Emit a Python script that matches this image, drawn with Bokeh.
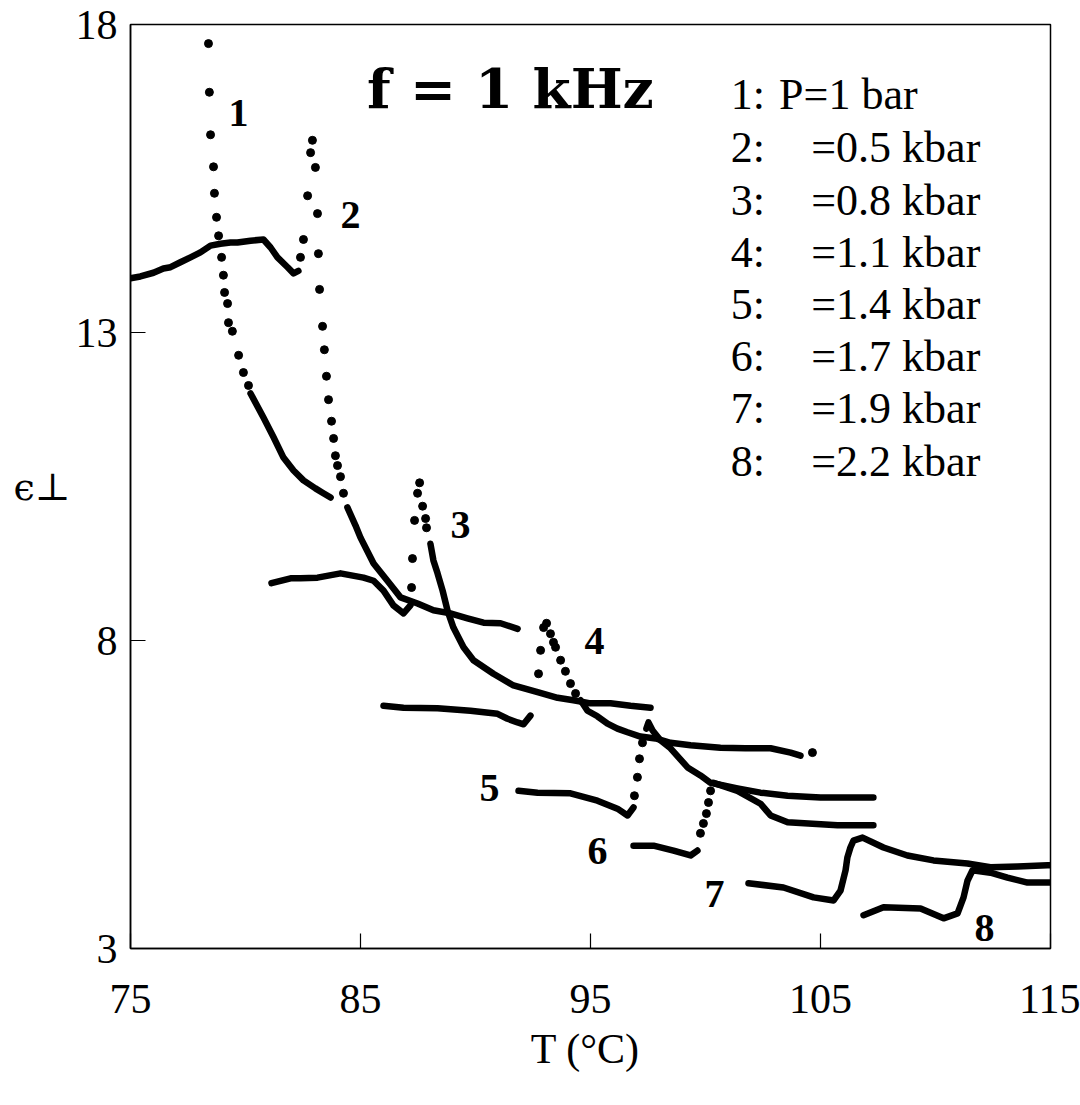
from bokeh.plotting import figure
from bokeh.models import Range1d, FixedTicker, Label
from bokeh.core.properties import value
from bokeh.embed import file_html
from bokeh.resources import INLINE

# ---------------- data: T (deg C) vs eps_perp ----------------
# curve 1: P = 1 bar
c1_dots_T = [78.39, 78.43, 78.48, 78.61, 78.65, 78.74, 78.83, 78.96, 79.04, 79.09, 79.22, 79.26, 79.43, 79.70, 79.91, 80.13]
c1_dots_eps = [17.69, 16.90, 16.21, 15.69, 15.26, 14.87, 14.57, 14.22, 13.93, 13.65, 13.47, 13.16, 13.02, 12.63, 12.35, 12.14]
c1_line_T = [80.22, 80.78, 81.22, 81.65, 82.09, 82.52, 83.04, 83.35, 83.70]
c1_line_eps = [12.01, 11.62, 11.30, 10.97, 10.76, 10.60, 10.47, 10.40, 10.32]

# curve 2: P = 0.5 kbar
c2_low_T = [75.00, 75.43, 76.00, 76.43, 76.74, 77.17, 77.61, 78.04, 78.48, 78.91, 79.35, 79.65, 80.22, 80.78, 81.09, 81.39, 81.83, 82.09, 82.30]
c2_low_eps = [13.88, 13.91, 13.97, 14.04, 14.06, 14.14, 14.22, 14.30, 14.41, 14.44, 14.46, 14.46, 14.49, 14.51, 14.38, 14.22, 14.06, 13.96, 14.00]
c2_dots_T = [82.39, 82.52, 82.70, 82.83, 82.91, 83.04, 83.13, 83.17, 83.22, 83.35, 83.43, 83.52, 83.61, 83.74, 83.83, 83.91, 84.00, 84.13, 84.26]
c2_dots_eps = [14.22, 14.51, 15.22, 15.92, 16.12, 15.68, 14.93, 14.28, 13.70, 13.10, 12.72, 12.29, 11.91, 11.56, 11.28, 11.00, 10.84, 10.66, 10.39]
c2_high_T = [84.43, 84.78, 85.00, 85.57, 86.17, 86.74, 87.48, 88.17, 88.91, 89.65, 90.35, 91.09, 91.83]
c2_high_eps = [10.16, 9.87, 9.67, 9.25, 8.97, 8.70, 8.60, 8.49, 8.44, 8.36, 8.29, 8.28, 8.19]

# curve 3: P = 0.8 kbar
c3_low_T = [81.13, 81.96, 82.39, 83.13, 84.13, 85.13, 85.57, 86.00, 86.43, 86.87, 87.17]
c3_low_eps = [8.93, 9.01, 9.01, 9.02, 9.09, 9.02, 8.97, 8.81, 8.57, 8.44, 8.57]
c3_dots_T = [87.22, 87.26, 87.35, 87.48, 87.57, 87.70, 87.83, 87.87]
c3_dots_eps = [8.86, 9.33, 9.95, 10.39, 10.56, 10.18, 9.98, 9.83]
c3_high_T = [88.04, 88.17, 88.35, 88.57, 88.78, 89.04, 89.48, 89.91, 90.78, 91.65, 92.70, 93.57, 94.26, 95.00, 95.87, 96.74, 97.61]
c3_high_eps = [9.57, 9.30, 9.09, 8.81, 8.49, 8.21, 7.89, 7.68, 7.46, 7.27, 7.16, 7.07, 7.03, 6.98, 6.98, 6.94, 6.91]

# curve 4: P = 1.1 kbar
c4_low_T = [86.00, 86.87, 88.35, 89.78, 90.96, 91.39, 91.83, 92.09, 92.39]
c4_low_eps = [6.94, 6.91, 6.90, 6.86, 6.81, 6.73, 6.67, 6.64, 6.78]
c4_dots_T = [92.74, 92.83, 92.96, 93.09, 93.26, 93.39, 93.48, 93.70, 93.91, 94.13, 94.35, 104.65]
c4_dots_eps = [7.46, 7.84, 8.21, 8.28, 8.11, 7.97, 7.89, 7.68, 7.50, 7.30, 7.14, 6.18]
c4_high_T = [94.57, 94.87, 95.30, 95.74, 96.17, 96.61, 97.17, 97.83, 98.48, 99.35, 100.65, 101.74, 102.83, 103.70, 104.13]
c4_high_eps = [7.03, 6.86, 6.77, 6.65, 6.57, 6.51, 6.44, 6.41, 6.34, 6.30, 6.26, 6.25, 6.25, 6.18, 6.13]

# curve 5: P = 1.4 kbar
c5_low_T = [91.87, 92.70, 94.13, 95.30, 96.17, 96.61, 96.87]
c5_low_eps = [5.56, 5.53, 5.52, 5.40, 5.27, 5.16, 5.29]
c5_dots_T = [96.91, 97.04, 97.13, 97.26]
c5_dots_eps = [5.48, 5.78, 6.08, 6.34]
c5_high_T = [97.43, 97.52, 97.70, 98.04, 98.48, 99.22, 99.78, 100.22, 101.39, 102.39, 103.57, 105.00, 106.30, 107.30]
c5_high_eps = [6.57, 6.67, 6.54, 6.38, 6.25, 5.94, 5.81, 5.69, 5.60, 5.53, 5.48, 5.45, 5.45, 5.45]

# curve 6: P = 1.7 kbar
c6_low_T = [96.87, 97.74, 98.61, 99.35, 99.65]
c6_low_eps = [4.67, 4.67, 4.59, 4.51, 4.59]
c6_dots_T = [99.78, 99.91, 100.04, 100.13, 100.22]
c6_dots_eps = [4.87, 5.03, 5.19, 5.37, 5.56]
c6_high_T = [100.35, 101.39, 102.39, 102.83, 103.57, 105.74, 107.30]
c6_high_eps = [5.69, 5.56, 5.35, 5.16, 5.05, 5.00, 5.00]

# curve 7: P = 1.9 kbar
c7_T = [101.87, 103.39, 104.70, 105.57, 105.87, 106.09, 106.17, 106.30, 106.43, 106.83, 107.74, 108.78, 109.91, 111.39, 112.39, 113.57, 114.87, 115.00]
c7_eps = [4.06, 3.99, 3.83, 3.78, 3.94, 4.27, 4.48, 4.64, 4.75, 4.80, 4.64, 4.51, 4.43, 4.38, 4.32, 4.33, 4.35, 4.35]

# curve 8: P = 2.2 kbar
c8_T = [106.87, 107.74, 109.35, 110.35, 110.96, 111.22, 111.39, 111.61, 112.39, 113.13, 114.00, 115.00]
c8_eps = [3.54, 3.67, 3.65, 3.49, 3.57, 3.83, 4.10, 4.27, 4.23, 4.15, 4.07, 4.07]

curve_names = ["1", "2", "3", "4", "5", "6", "7", "8"]
legend_nums = ["1:", "2:", "3:", "4:", "5:", "6:", "7:", "8:"]
legend_vals = ["P=1 bar", "=0.5 kbar", "=0.8 kbar", "=1.1 kbar", "=1.4 kbar", "=1.7 kbar", "=1.9 kbar", "=2.2 kbar"]
x_ticks = [75, 85, 95, 105, 115]
y_ticks = [3, 8, 13, 18]

# ---------------- layout constants (annotation positions, in data units) ----------------
name_T = [79.70, 84.57, 89.35, 95.17, 90.61, 95.30, 100.39, 112.13]
name_eps = [16.56, 14.90, 9.87, 8.00, 5.60, 4.59, 3.89, 3.34]
leg_num_T = 101.10
leg_val_T = [103.20] + [104.60] * 7
leg_eps = [16.86, 16.00, 15.14, 14.30, 13.45, 12.61, 11.77, 10.91]

SERIF = "Liberation Serif"

p = figure(width=1080, height=1105, output_backend="svg", toolbar_location=None,
           x_range=Range1d(75, 115), y_range=Range1d(3, 18),
           min_border_left=130, min_border_right=30, min_border_top=24, min_border_bottom=157)
p.background_fill_color = "white"
p.border_fill_color = "white"
p.outline_line_color = "black"
p.outline_line_width = 1.5
p.xgrid.visible = False
p.ygrid.visible = False

for ax, ticks in ((p.xaxis, x_ticks), (p.yaxis, y_ticks)):
    ax.ticker = FixedTicker(ticks=ticks)
    ax.major_tick_in = 15
    ax.major_tick_out = 0
    ax.minor_tick_in = 0
    ax.minor_tick_out = 0
    ax.major_tick_line_color = "black"
    ax.major_tick_line_width = 1.2
    ax.axis_line_color = "black"
    ax.axis_line_width = 1.5
    ax.major_label_text_font = SERIF
    ax.major_label_text_font_size = "42px"
    ax.major_label_text_color = "black"

p.xaxis.major_label_standoff = 36
p.yaxis.major_label_standoff = 13
p.xaxis.axis_label = "T  (°C)"
p.xaxis.axis_label_text_font = SERIF
p.xaxis.axis_label_text_font_size = "42px"
p.xaxis.axis_label_text_font_style = "normal"
p.xaxis.axis_label_text_color = "black"
p.xaxis.axis_label_standoff = 10

# y-axis label, horizontal
yax = p.yaxis[0]
if "axis_label_orientation" in yax.properties():
    yax.axis_label = "ϵ⊥"
    yax.axis_label_orientation = "horizontal"
    yax.axis_label_text_font = "DejaVu Serif"
    yax.axis_label_text_font_size = "38px"
    yax.axis_label_text_font_style = "normal"
    yax.axis_label_text_color = "black"
    yax.axis_label_standoff = 2
else:
    p.add_layout(Label(x=28, y=590, x_units="screen", y_units="screen", text="ϵ⊥",
                       text_font="DejaVu Serif", text_font_size="40px",
                       text_align="left", text_baseline="middle", text_color="black"))

LW = 6.5
DS = 8
solid = [(c1_line_T, c1_line_eps), (c2_low_T, c2_low_eps), (c2_high_T, c2_high_eps),
         (c3_low_T, c3_low_eps), (c3_high_T, c3_high_eps), (c4_low_T, c4_low_eps),
         (c4_high_T, c4_high_eps), (c5_low_T, c5_low_eps), (c5_high_T, c5_high_eps),
         (c6_low_T, c6_low_eps), (c6_high_T, c6_high_eps), (c7_T, c7_eps), (c8_T, c8_eps)]
for xs, ys in solid:
    p.line(xs, ys, line_width=LW, line_color="black", line_join="round", line_cap="round")

dots = [(c1_dots_T, c1_dots_eps), (c2_dots_T, c2_dots_eps), (c3_dots_T, c3_dots_eps),
        (c4_dots_T, c4_dots_eps), (c5_dots_T, c5_dots_eps), (c6_dots_T, c6_dots_eps)]
for xs, ys in dots:
    p.scatter(xs, ys, size=DS, fill_color="black", line_color="black")

# curve numbers
p.text(x=name_T, y=name_eps, text=curve_names, text_font=value(SERIF), text_font_style="bold",
       text_font_size=value("40px"), text_align="center", text_baseline="middle", text_color="black")

# title inside the plot
p.text(x=[91.52], y=[16.96], text=["f = 1 kHz"], text_font=value("DejaVu Serif"), text_font_style="bold",
       text_font_size=value("55px"), text_align="center", text_baseline="middle", text_color="black")

# legend text
p.text(x=[leg_num_T] * 8, y=leg_eps, text=legend_nums, text_font=value(SERIF),
       text_font_size=value("44px"), text_align="left", text_baseline="middle", text_color="black")
p.text(x=leg_val_T, y=leg_eps, text=legend_vals, text_font=value(SERIF),
       text_font_size=value("44px"), text_align="left", text_baseline="middle", text_color="black")

open("out.html", "w").write(file_html(p, INLINE))
